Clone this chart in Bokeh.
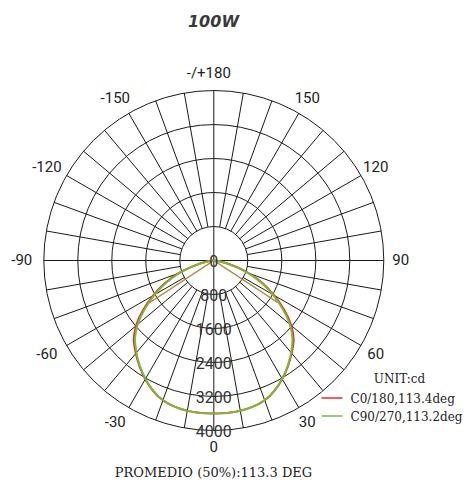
import numpy as np
from bokeh.plotting import figure
from bokeh.models import Range1d
from bokeh.core.properties import value
from bokeh.embed import file_html
from bokeh.resources import INLINE

# ---------------- data ----------------
title_text = "100W"
gamma = [0, 2.5, 5, 7.5, 10, 12.5, 15, 17.5, 20, 22.5, 25, 27.5, 30, 32.5, 35, 37.5, 40, 42.5,
         45, 47.5, 50, 52.5, 55, 57.5, 60, 62.5, 65, 67.5, 70, 72.5, 75, 77.5, 80, 82.5, 85, 87.5, 90]
# C0/180 plane (cd): right half (C0) and left half (C180)
c0_side = [3600, 3600, 3600, 3598, 3590, 3578, 3560, 3537, 3500, 3450, 3380, 3305, 3220, 3132,
           3040, 2945, 2850, 2755, 2660, 2527, 2380, 2208, 2020, 1830, 1640, 1455, 1270, 1077,
           880, 680, 480, 330, 200, 120, 60, 22, 0]
c180_side = [3600, 3600, 3600, 3598, 3590, 3578, 3560, 3537, 3500, 3452, 3383, 3308, 3225, 3137,
             3045, 2950, 2855, 2760, 2665, 2535, 2390, 2218, 2030, 1840, 1650, 1465, 1280, 1087,
             890, 690, 490, 335, 205, 122, 60, 22, 0]
# C90/270 plane (cd)
c90_side = [3600, 3600, 3600, 3598, 3590, 3578, 3560, 3535, 3495, 3445, 3375, 3300, 3215, 3125,
            3030, 2932, 2830, 2727, 2620, 2485, 2335, 2160, 1970, 1785, 1600, 1415, 1230, 1040,
            850, 650, 450, 300, 180, 105, 50, 18, 0]
c270_side = [3600, 3600, 3600, 3598, 3590, 3578, 3560, 3535, 3495, 3445, 3375, 3300, 3215, 3125,
             3030, 2932, 2830, 2729, 2625, 2490, 2340, 2165, 1975, 1790, 1605, 1420, 1235, 1045,
             855, 655, 455, 305, 180, 105, 50, 18, 0]
beam_c0 = 113.4
beam_c90 = 113.2
beam_avg = 113.3
ring_values = [800, 1600, 2400, 3200, 4000]
ring_labels = ["0", "800", "1600", "2400", "3200", "4000"]
angle_ticks = [180, 150, 120, 90, 60, 30, 0, -30, -60, -90, -120, -150]
angle_labels = ["-/+180", "150", "120", "90", "60", "30", "0", "-30", "-60", "-90", "-120", "-150"]
legend_names = ["C0/180,%.1fdeg" % beam_c0, "C90/270,%.1fdeg" % beam_c90]
unit_text = "UNIT:cd"
footer_text = "PROMEDIO (50%%):%.1f DEG" % beam_avg

RED = "#ee2a24"
GREEN = "#78bb3c"
GRID = "#1a1a1a"
TXT = "#222222"

# ---------------- layout ----------------
W, H = 464, 480
CX, CY = 213.3, 260.0           # polar centre in canvas pixels
RMAX_PX = 170.0
RMAX = ring_values[-1]
s = RMAX / RMAX_PX              # cd per pixel


def px(fx, fy):
    return (fx - CX) * s, (CY - fy) * s


p = figure(width=W, height=H, output_backend="svg", toolbar_location=None,
           x_range=Range1d(-CX * s, (W - CX) * s), y_range=Range1d(-(H - CY) * s, CY * s),
           x_axis_type=None, y_axis_type=None, min_border=0)
p.grid.visible = False
p.outline_line_color = None
p.background_fill_color = "white"
p.border_fill_color = "white"

# rings
p.circle(x=[0] * len(ring_values), y=[0] * len(ring_values), radius=ring_values,
         fill_color=None, line_color=GRID, line_width=1)

# radial spokes every 10 degrees
x0s, y0s, x1s, y1s = [], [], [], []
for a in range(0, 360, 10):
    r0 = 0 if a % 90 == 0 else ring_values[0]
    t = np.radians(a)
    x0s.append(r0 * np.sin(t)); y0s.append(-r0 * np.cos(t))
    x1s.append(RMAX * np.sin(t)); y1s.append(-RMAX * np.cos(t))
p.segment(x0=x0s, y0=y0s, x1=x1s, y1=y1s, line_color=GRID, line_width=1)


def polar_curve(right, left):
    g = [-v for v in gamma[::-1]] + gamma[1:]
    I = list(left[::-1]) + list(right[1:])
    g = np.radians(g)
    I = np.array(I, dtype=float)
    return I * np.sin(g), -I * np.cos(g)


def beam_lines(right, left, beam, color, alpha):
    imax = max(max(right), max(left))
    h = np.radians(beam / 2.0)
    r = imax / 2.0
    p.segment(x0=[0, 0], y0=[0, 0], x1=[r * np.sin(h), -r * np.sin(h)],
              y1=[-r * np.cos(h), -r * np.cos(h)], line_color=color, line_width=1.2, line_alpha=alpha)


beam_lines(c0_side, c180_side, beam_c0, RED, 0.8)
beam_lines(c90_side, c270_side, beam_c90, GREEN, 0.6)

xr, yr = polar_curve(c0_side, c180_side)
p.line(xr, yr, line_color=RED, line_width=2)
xg, yg = polar_curve(c90_side, c270_side)
p.line(xg, yg, line_color=GREEN, line_width=2)

# angle labels
RL = 187 * s
ax, ay, axo = [], [], []
for a, lab in zip(angle_ticks, angle_labels):
    t = np.radians(a)
    ax.append(RL * np.sin(t)); ay.append(-RL * np.cos(t))
    axo.append(-5 if lab.startswith("-") else 0)
p.text(x=ax, y=ay, text=angle_labels, x_offset=axo, y_offset=-1,
       text_font=value("Roboto"), text_font_size="15px", text_color=TXT,
       text_align="center", text_baseline="middle")

# ring value labels
rv = [0] + ring_values
p.text(x=[0] * len(rv), y=[-v for v in rv], text=ring_labels,
       text_font=value("Roboto"), text_font_size="16px", text_color="#333333",
       text_align="center", text_baseline="alphabetic", y_offset=0)

# title
tx, ty = px(213, 21)
p.text(x=[tx], y=[ty], text=[title_text], text_font=value("DejaVu Sans"),
       text_font_size="16px", text_font_style="bold italic", text_color="#3a3a3a",
       text_align="center", text_baseline="middle")

# legend
ux, uy = px(399, 378)
p.text(x=[ux], y=[uy], text=[unit_text], text_font=value("DejaVu Serif"),
       text_font_size="12px", text_color=TXT, text_align="center", text_baseline="middle")
for i, (name, col) in enumerate(zip(legend_names, [RED, GREEN])):
    yy = 397.5 + 18 * i
    lx0, ly = px(321, yy)
    lx1, _ = px(342, yy)
    p.line([lx0, lx1], [ly, ly], line_color=col, line_width=1.5)
    tx2, ty2 = px(350, yy + 0.5)
    p.text(x=[tx2], y=[ty2], text=[name], text_font=value("DejaVu Serif"),
           text_font_size="12px", text_color=TXT, text_align="left", text_baseline="middle")

# footer
fx, fy = px(213, 472)
p.text(x=[fx], y=[fy], text=[footer_text], text_font=value("DejaVu Serif"),
       text_font_size="13px", text_color=TXT, text_align="center", text_baseline="alphabetic")

open("out.html", "w").write(file_html(p, INLINE))
